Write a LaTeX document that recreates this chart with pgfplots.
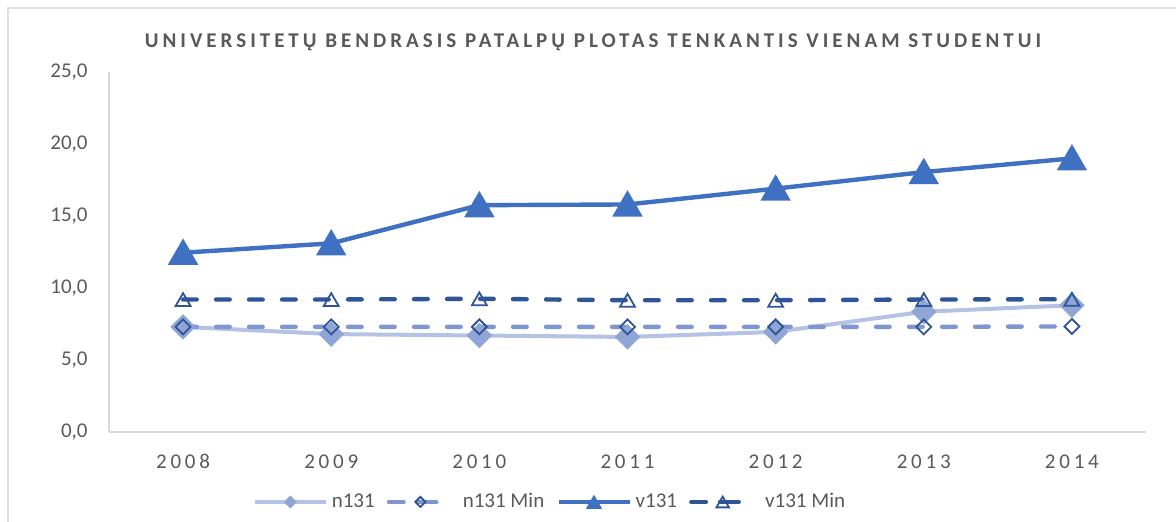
\documentclass[border=0pt]{standalone}
\usepackage{fontspec}
\setmainfont{Carlito}
\newfontfamily\spaced[LetterSpace=18]{Carlito}
\newfontfamily\titlefont[LetterSpace=19]{Carlito}
\usepackage{pgfplots}
\pgfplotsset{compat=1.18}
\definecolor{txt}{HTML}{595959}
\definecolor{nline}{HTML}{B4C2E3}
\definecolor{nmark}{HTML}{8FA5D6}
\definecolor{nmin}{HTML}{7F97D0}
\definecolor{vcol}{HTML}{4070C2}
\definecolor{vmin}{HTML}{2F5597}
\definecolor{axgray}{HTML}{D9D9D9}
\begin{document}
\fontsize{10.5}{12}\selectfont
\begin{tikzpicture}
\path[use as bounding box] (0,0) rectangle (588pt,261pt);
\draw[color=black!12, line width=1pt] (4pt,0) -- (4pt,257pt) -- (588pt,257pt);
\node[text=txt, font=\titlefont\bfseries\fontsize{10.5}{12}\selectfont] at (296.5pt,240pt) {UNIVERSITETŲ BENDRASIS PATALPŲ PLOTAS TENKANTIS VIENAM STUDENTUI};
\begin{axis}[
  at={(54.5pt,45pt)}, anchor=south west,
  scale only axis, width=518.5pt, height=180pt,
  xmin=2007.5, xmax=2014.5, ymin=0, ymax=25,
  xtick={2008,2009,2010,2011,2012,2013,2014},
  xticklabels={2008,2009,2010,2011,2012,2013,2014},
  ytick={0,5,10,15,20,25},
  axis x line*=bottom, axis y line*=left,
  axis line style={-, color=axgray, line width=0.8pt},
  major tick length=0pt,
  tick style={draw=none},
  xticklabel style={font=\spaced\fontsize{10.5}{12}\selectfont, text=txt, inner sep=0pt, anchor=north, yshift=-11pt},
  yticklabel style={font=\fontsize{10.5}{12}\selectfont, text=txt, inner sep=0pt, anchor=east, xshift=-10.5pt},
  /pgf/number format/.cd, use comma, fixed, fixed zerofill, precision=1, assume math mode=true,
  /pgfplots/.cd,
  clip=false,
  legend columns=4,
  legend style={at={(0.4262,-0.1944)}, anchor=center, draw=none, fill=none,
    font=\fontsize{10.5}{12}\selectfont, text=txt,
    /tikz/every even column/.append style={column sep=4pt}},
]
% legend images
\addlegendimage{legend image code/.code={
  \path[draw=none, fill=none] (0pt,-4pt) rectangle (36pt,4pt);
  \draw[color=nline, line width=2pt] (0pt,0pt) -- (35.5pt,0pt);
  \draw[color=nmark] plot[mark=square*, mark size=2.1pt, mark options={rotate=45, fill=nmark, draw=nmark}] coordinates {(17.75pt,0pt)};}}
\addlegendentry{n131}
\addlegendimage{legend image code/.code={
  \path[draw=none, fill=none] (0pt,-4pt) rectangle (36pt,4pt);
  \draw[color=nmin, line width=2.2pt, line cap=round] (1.1pt,0pt) -- (8.4pt,0pt) (15.4pt,0pt) -- (24.8pt,0pt);
  \draw[color=vmin] plot[mark=square, mark size=1.8pt, mark options={rotate=45, draw=vmin, line width=0.9pt, fill=none}] coordinates {(16.8pt,0pt)};}}
\addlegendentry{n131 Min}
\addlegendimage{legend image code/.code={
  \path[draw=none, fill=none] (0pt,-4pt) rectangle (36pt,4pt);
  \draw[color=vcol, line width=2.2pt] (0pt,0pt) -- (35.5pt,0pt);
  \draw[color=vcol] plot[mark=triangle*, mark size=4.3pt, mark options={fill=vcol, draw=vcol, yshift=-1.1pt}] coordinates {(17.75pt,0pt)};}}
\addlegendentry{v131}
\addlegendimage{legend image code/.code={
  \path[draw=none, fill=none] (0pt,-4pt) rectangle (36pt,4pt);
  \draw[color=vmin, line width=2.2pt, line cap=round] (1.1pt,0pt) -- (8.4pt,0pt) (15.4pt,0pt) -- (24.8pt,0pt);
  \draw[color=vmin] plot[mark=triangle, mark size=3.6pt, mark options={draw=vmin, line width=0.9pt, fill=none, yshift=-0.9pt}] coordinates {(16.8pt,0pt)};}}
\addlegendentry{v131 Min}
% n131
\addplot[forget plot, color=nline, line width=2pt, mark=square*, mark size=3.5pt, mark options={rotate=45, fill=nmark, draw=nmark}] coordinates {
(2008,7.3) (2009,6.8) (2010,6.7) (2011,6.6) (2012,6.95) (2013,8.35) (2014,8.8)};
% n131 Min
\addplot[forget plot, color=nmin, line width=2.2pt, line cap=round, dash pattern=on 6.8pt off 9.7pt, mark=square, mark size=2.65pt, mark options={solid, rotate=45, draw=vmin, line width=0.9pt, fill=none}] coordinates {
(2008,7.3) (2009,7.3) (2010,7.3) (2011,7.3) (2012,7.3) (2013,7.3) (2014,7.33)};
% v131
\addplot[forget plot, color=vcol, line width=2.2pt, mark=triangle*, mark size=6.6pt, mark options={fill=vcol, draw=vcol, yshift=-1.65pt}] coordinates {
(2008,12.45) (2009,13.1) (2010,15.75) (2011,15.8) (2012,16.9) (2013,18.05) (2014,19.0)};
% v131 Min
\addplot[forget plot, color=vmin, line width=2.2pt, line cap=round, dash pattern=on 6.8pt off 9.7pt, mark=triangle, mark size=4.3pt, mark options={solid, draw=vmin, line width=0.9pt, fill=none, yshift=-1.1pt}] coordinates {
(2008,9.2) (2009,9.2) (2010,9.25) (2011,9.15) (2012,9.15) (2013,9.2) (2014,9.22)};
\end{axis}
\end{tikzpicture}
\end{document}
